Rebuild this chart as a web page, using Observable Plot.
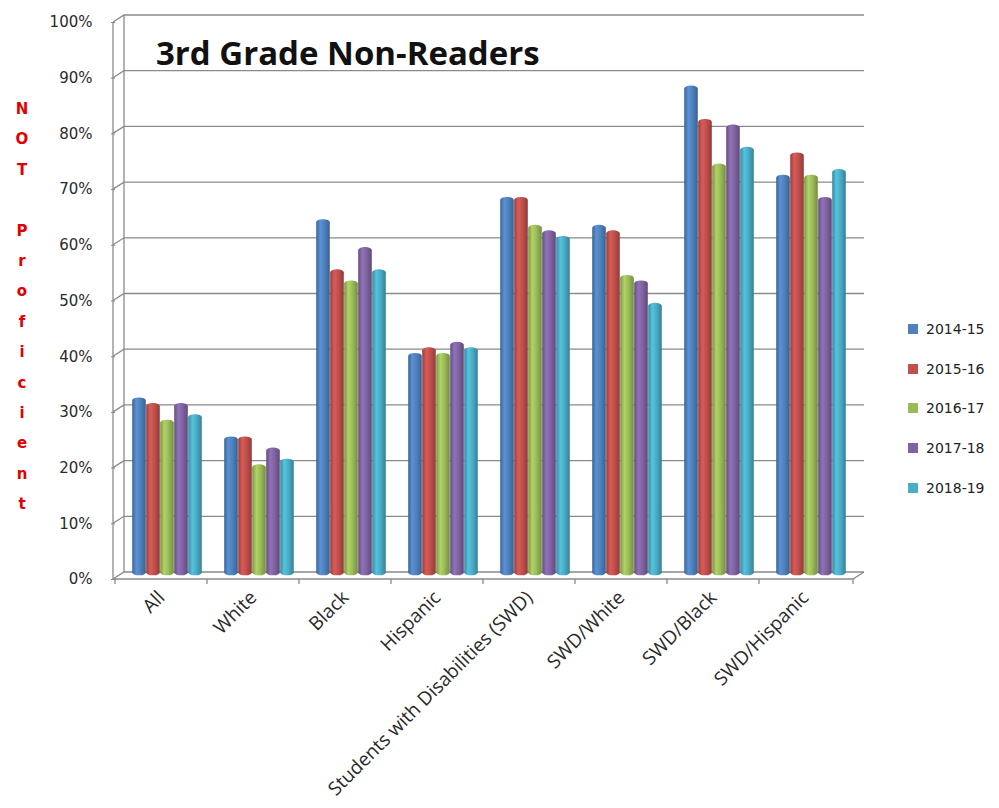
<!DOCTYPE html>
<html><head><meta charset="utf-8">
<script src="https://cdn.jsdelivr.net/npm/d3@7"></script>
<script src="https://cdn.jsdelivr.net/npm/@observablehq/plot@0.6"></script>
<style>
body{margin:0;background:#fff;}
#wrap{position:relative;width:999px;height:808px;overflow:hidden;background:#fff;}
#title{position:absolute;left:156px;top:30px;font:bold 33px "Open Sans";color:#111;white-space:nowrap;line-height:45px;}
#ylab{position:absolute;left:8px;top:94px;width:28px;text-align:center;font:bold 15px "DejaVu Sans";color:#e00000;line-height:30.4px;}
#legend{position:absolute;left:908px;top:309px;font:14px "DejaVu Sans";color:#222;}
.li{height:39.8px;display:flex;align-items:center;}
.sw{width:10px;height:10px;margin-right:8px;}
</style></head>
<body>
<svg width="0" height="0" style="position:absolute"><defs id="defs"></defs></svg>
<div id="wrap">
<div id="chart"></div>
<div id="title">3rd Grade Non-Readers</div>
<div id="ylab"></div>
<div id="legend"></div>
</div>
<script>
const categories = ["All","White","Black","Hispanic","Students with Disabilities (SWD)","SWD/White","SWD/Black","SWD/Hispanic"];
const years = ["2014-15","2015-16","2016-17","2017-18","2018-19"];
const v2014_15 = [32,25,64,40,68,63,88,72];
const v2015_16 = [31,25,55,41,68,62,82,76];
const v2016_17 = [28,20,53,40,63,54,74,72];
const v2017_18 = [31,23,59,42,62,53,81,68];
const v2018_19 = [29,21,55,41,61,49,77,73];
const colors = ["#4F81BD","#C0504D","#9BBB59","#8064A2","#4BACC6"];
const yTicks = [0,10,20,30,40,50,60,70,80,90,100];
const yLabelLines = ["N","O","T","","P","r","o","f","i","c","i","e","n","t"];

const series = [v2014_15, v2015_16, v2016_17, v2017_18, v2018_19];
const rows = [];
years.forEach((yr, i) => categories.forEach((c, j) => rows.push({category: c, year: yr, value: series[i][j]})));

// cylinder gradients
const defs = d3.select("#defs");
colors.forEach((c, i) => {
  const col = d3.color(c);
  const g = defs.append("linearGradient").attr("id", "g" + i).attr("x1", "0").attr("x2", "1").attr("y1", "0").attr("y2", "0");
  g.append("stop").attr("offset", "0%").attr("stop-color", col.darker(0.7).formatHex());
  g.append("stop").attr("offset", "30%").attr("stop-color", col.brighter(0.35).formatHex());
  g.append("stop").attr("offset", "60%").attr("stop-color", col.formatHex());
  g.append("stop").attr("offset", "100%").attr("stop-color", col.darker(0.8).formatHex());
});

const barMarks = years.map((yr, i) => Plot.barY(rows.filter(d => d.year === yr), {
  fx: "category", x: "year", y: "value",
  fill: `url(#g${i})`, rx: 6.5, ry: 3, dx: 6, dy: -3.5, inset: 0.2
}));

const ML = 113, MR = 146, W = 999;
const chart = Plot.plot({
  width: W, height: 808,
  marginLeft: ML, marginRight: MR, marginTop: 22, marginBottom: 229,
  style: {fontFamily: "DejaVu Sans", color: "#2a2a2a", background: "transparent"},
  fx: {domain: categories, padding: 0, label: null},
  x: {domain: years, paddingInner: 0, paddingOuter: 0.68, axis: null},
  y: {domain: [0, 100], label: null},
  marks: [
    Plot.axisY({ticks: yTicks, tickFormat: d => d + "%", tickSize: 4, tickPadding: 19, fontSize: 15, stroke: "#8a8a8a", label: null}),
    Plot.axisFx({anchor: "bottom", tickSize: 0, tickPadding: 15, tickRotate: -45, fontSize: 19, fontFamily: "Open Sans", label: null}),
    ...barMarks
  ]
});
document.getElementById("chart").appendChild(chart);

// 3D-style walls, gridlines and floor, placed from the plot's own scales
const DX = 11, DY = -7;
const ys = chart.scale("y"), fxs = chart.scale("fx");
const y = v => ys.apply(v);
const x0 = ML, x1 = W - MR;
const g = d3.create("svg:g").attr("fill", "none").attr("stroke", "#8a8a8a").attr("stroke-width", 1.3);
for (const t of yTicks) {
  const yy = y(t);
  g.append("path").attr("d", `M${x0},${yy}L${x0 + DX},${yy + DY}H${x1 + DX}`);
}
g.append("line").attr("x1", x0 + DX).attr("x2", x0 + DX).attr("y1", y(0) + DY).attr("y2", y(100) + DY);
g.append("line").attr("x1", x0).attr("x2", x0).attr("y1", y(0)).attr("y2", y(100));
g.append("path").attr("d", `M${x0},${y(0)}H${x1}L${x1 + DX},${y(0) + DY}`);
categories.forEach(c => {
  const xb = fxs.apply(c);
  g.append("line").attr("x1", xb).attr("x2", xb).attr("y1", y(0)).attr("y2", y(0) + 5);
});
g.append("line").attr("x1", x1).attr("x2", x1).attr("y1", y(0)).attr("y2", y(0) + 5);
chart.insertBefore(g.node(), chart.querySelector("g"));

d3.select("#ylab").selectAll("div").data(yLabelLines).join("div").text(d => d === "" ? "\u00a0" : d);
const li = d3.select("#legend").selectAll("div").data(years).join("div").attr("class", "li");
li.append("div").attr("class", "sw").style("background", (d, i) => colors[i]);
li.append("span").text(d => d);
</script>
</body></html>
